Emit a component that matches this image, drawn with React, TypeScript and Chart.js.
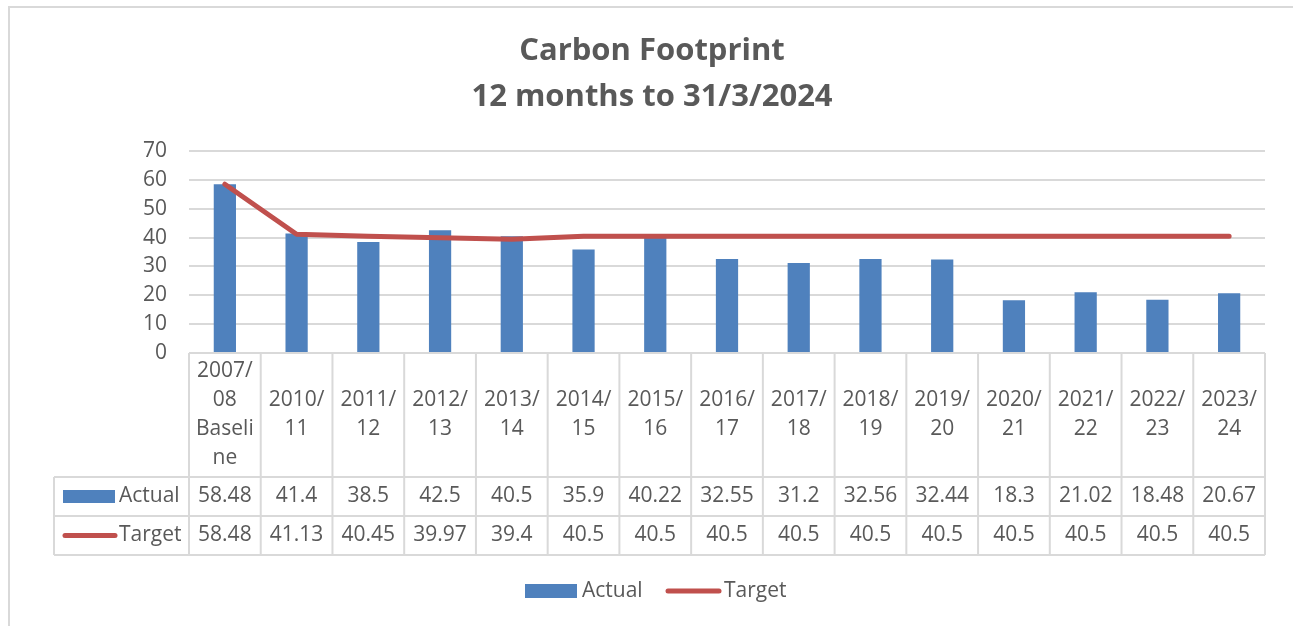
import React, { useEffect, useRef } from 'react';
import { Chart, registerables } from 'chart.js';

Chart.register(...registerables);

const titleLines = ['Carbon Footprint', '12 months to 31/3/2024'];
const categories: string[][] = [
  ['2007/', '08', 'Baseli', 'ne'],
  ['2010/', '11'],
  ['2011/', '12'],
  ['2012/', '13'],
  ['2013/', '14'],
  ['2014/', '15'],
  ['2015/', '16'],
  ['2016/', '17'],
  ['2017/', '18'],
  ['2018/', '19'],
  ['2019/', '20'],
  ['2020/', '21'],
  ['2021/', '22'],
  ['2022/', '23'],
  ['2023/', '24'],
];
const actualValues = [58.48, 41.4, 38.5, 42.5, 40.5, 35.9, 40.22, 32.55, 31.2, 32.56, 32.44, 18.3, 21.02, 18.48, 20.67];
const targetValues = [58.48, 41.13, 40.45, 39.97, 39.4, 40.5, 40.5, 40.5, 40.5, 40.5, 40.5, 40.5, 40.5, 40.5, 40.5];
const seriesNames = ['Actual', 'Target'];
const yMin = 0;
const yMax = 70;
const yStep = 10;

const FONT = "'Open Sans', sans-serif";
const TEXT = '#595959';
const GRID = '#d9d9d9';
const BAR = '#4f81bd';
const LINE = '#c0504d';

const decorPlugin = {
  id: 'decor',
  beforeDraw(chart: any) {
    const ctx = chart.ctx;
    ctx.save();
    ctx.fillStyle = '#ffffff';
    ctx.fillRect(0, 0, chart.width, chart.height);
    // outer chart border (extends beyond view)
    ctx.strokeStyle = GRID;
    ctx.lineWidth = 2;
    ctx.strokeRect(9, 7, chart.width + 20, chart.height + 20);
    // title
    ctx.fillStyle = TEXT;
    ctx.font = `bold 31px ${FONT}`;
    ctx.textAlign = 'center';
    ctx.textBaseline = 'alphabetic';
    const cx = 652;
    ctx.fillText(titleLines[0], cx, 60);
    ctx.fillText(titleLines[1], cx, 106);
    ctx.restore();
  },
  afterDraw(chart: any) {
    const ctx = chart.ctx;
    const ca = chart.chartArea;
    const xs = chart.scales.x;
    const n = categories.length;
    const colW = (ca.right - ca.left) / n;
    const top = ca.bottom;
    const hdrB = top + 124;
    const r1B = top + 163;
    const r2B = top + 202;
    const tableLeft = 54;
    ctx.save();
    ctx.strokeStyle = GRID;
    ctx.lineWidth = 2;
    ctx.beginPath();
    ctx.moveTo(ca.left, top);
    ctx.lineTo(ca.right, top);
    for (const y of [hdrB, r1B, r2B]) {
      ctx.moveTo(tableLeft, y);
      ctx.lineTo(ca.right, y);
    }
    for (let i = 0; i <= n; i++) {
      const x = ca.left + i * colW;
      ctx.moveTo(x, top);
      ctx.lineTo(x, r2B);
    }
    ctx.moveTo(tableLeft, hdrB);
    ctx.lineTo(tableLeft, r2B);
    ctx.stroke();

    ctx.fillStyle = TEXT;
    ctx.font = `21px ${FONT}`;
    ctx.textAlign = 'center';
    ctx.textBaseline = 'middle';
    const lh = 29;
    const hdrMid = (top + hdrB) / 2;
    const r1Mid = (hdrB + r1B) / 2;
    const r2Mid = (r1B + r2B) / 2;
    categories.forEach((lines, i) => {
      const x = xs.getPixelForValue(i);
      const start = hdrMid - ((lines.length - 1) * lh) / 2;
      lines.forEach((ln, j) => ctx.fillText(ln, x, start + j * lh));
      ctx.fillText(String(actualValues[i]), x, r1Mid);
      ctx.fillText(String(targetValues[i]), x, r2Mid);
    });

    // table legend keys
    ctx.textAlign = 'left';
    ctx.fillStyle = BAR;
    ctx.fillRect(63, r1Mid - 6.5, 52, 13);
    ctx.strokeStyle = LINE;
    ctx.lineWidth = 5;
    ctx.lineCap = 'round';
    ctx.beginPath();
    ctx.moveTo(65, r2Mid);
    ctx.lineTo(115, r2Mid);
    ctx.stroke();
    ctx.fillStyle = TEXT;
    ctx.fillText(seriesNames[0], 119, r1Mid);
    ctx.fillText(seriesNames[1], 119, r2Mid);

    // bottom legend
    const ly = 591;
    ctx.fillStyle = BAR;
    ctx.fillRect(525, ly - 7, 52, 14);
    ctx.beginPath();
    ctx.moveTo(668, ly);
    ctx.lineTo(719, ly);
    ctx.stroke();
    ctx.fillStyle = TEXT;
    ctx.fillText(seriesNames[0], 582, ly);
    ctx.fillText(seriesNames[1], 724, ly);
    ctx.restore();
  },
};

export default function App() {
  const ref = useRef<HTMLCanvasElement | null>(null);
  useEffect(() => {
    if (!ref.current) return;
    const chart = new Chart(ref.current, {
      type: 'bar',
      data: {
        labels: categories,
        datasets: [
          {
            type: 'line',
            label: seriesNames[1],
            data: targetValues,
            borderColor: LINE,
            backgroundColor: LINE,
            borderWidth: 5,
            borderCapStyle: 'round',
            borderJoinStyle: 'round',
            pointRadius: 0,
            tension: 0,
            order: 0,
          } as any,
          {
            type: 'bar',
            label: seriesNames[0],
            data: actualValues,
            backgroundColor: BAR,
            borderWidth: 0,
            barPercentage: 0.31,
            categoryPercentage: 1,
            order: 1,
          } as any,
        ],
      },
      options: {
        responsive: false,
        animation: false,
        layout: { padding: { left: 0, right: 28, top: 151, bottom: 0 } },
        plugins: {
          legend: { display: false },
          title: { display: false },
          tooltip: { enabled: false },
        },
        scales: {
          x: {
            offset: true,
            grid: { display: false },
            border: { display: false },
            ticks: { display: false },
            afterFit: (s: any) => {
              s.height = 273;
            },
          },
          y: {
            min: yMin,
            max: yMax,
            grid: { color: GRID, lineWidth: 2, drawTicks: false },
            border: { display: false },
            ticks: {
              stepSize: yStep,
              color: TEXT,
              padding: 22,
              font: { family: FONT, size: 21 },
            },
            afterFit: (s: any) => {
              s.width = 189;
            },
          },
        },
      },
      plugins: [decorPlugin],
    });
    return () => chart.destroy();
  }, []);
  return (
    <div style={{ position: 'absolute', left: 0, top: 0, width: 1293, height: 626 }}>
      <canvas ref={ref} width={1293} height={626} />
    </div>
  );
}
